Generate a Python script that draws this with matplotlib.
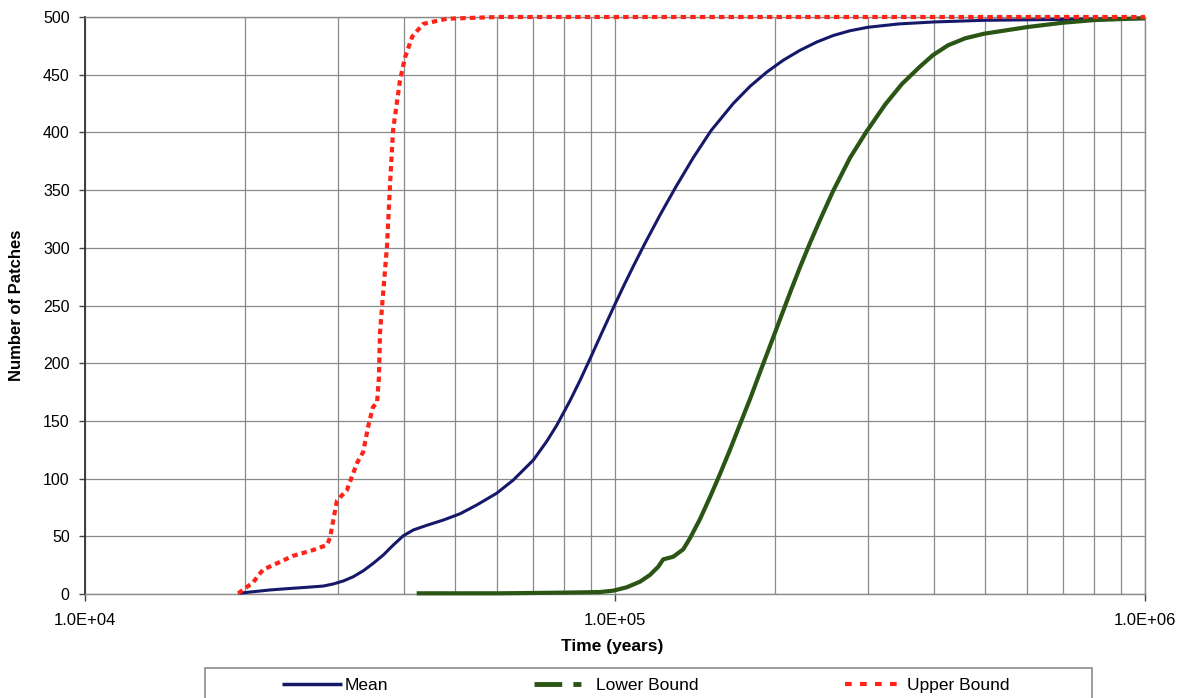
#!/usr/bin/python3
"""
Patch count over time, mean with lower and upper bounds.
"""
import matplotlib
matplotlib.use('Agg')
import matplotlib.pyplot as plt
from matplotlib.lines import Line2D
from matplotlib.patches import Rectangle
from matplotlib.ticker import LogLocator, FuncFormatter, MultipleLocator, NullFormatter

# Mean curve (time in years, number of patches)
mean_t = [19470, 20780, 22340, 24020, 26200, 28160, 29410, 30720, 32090, 33520,
          34990, 36550, 38180, 39870, 41650, 44130, 47450, 51000, 54830, 59800,
          64300, 70150, 74320, 77620, 82250, 85910, 89720, 95060, 99500, 104000,
          108300, 114000, 121600, 130000, 140500, 151800, 167200, 179800, 193300,
          207800, 223300, 240200, 258200, 277600, 300000, 343000, 400000, 493000,
          667000, 1000000]
mean_n = [0.6, 2, 3.5, 4.6, 5.8, 6.9, 8.7, 11.3, 15, 20.2,
          26.6, 33.8, 42.5, 50.5, 55.5, 59.5, 64.1, 69.5, 77.1, 87.3,
          98.8, 116.1, 132.2, 146.1, 167.5, 185.1, 203.8, 229.2, 249, 267.6,
          284.1, 304.2, 328.4, 352.1, 378.1, 401.6, 425.1, 439.9, 452.2,
          462.6, 471.1, 478.3, 484, 488.1, 491.1, 494, 495.7, 497.1,
          497.8, 498.5]

# Lower bound
lower_t = [42250, 60700, 81070, 93700, 99270, 105200, 111500, 116400, 120700,
           123300, 128800, 134500, 138500, 144700, 151100, 157800, 164800, 172100,
           179800, 187700, 196100, 204800, 213900, 223300, 233200, 243600, 257800,
           277600, 297500, 323200, 347900, 376200, 398100, 425000, 457600, 496800,
           600100, 698200, 800000, 1000000]
lower_n = [0.6, 0.6, 1.2, 1.7, 2.9, 5.8, 10.7, 16.5, 23.7,
           30, 32.3, 38.7, 48.3, 65, 84, 104, 125, 147,
           169, 192, 215, 238, 261, 283, 304, 324, 349,
           378, 400, 424, 442, 457, 467, 475.5, 481.5, 485.5,
           491.3, 495, 497.3, 499]

# Upper bound
upper_t = [19450, 20750, 21660, 22630, 24680, 26900, 28620, 29000, 29880, 31200,
           32600, 33480, 34220, 34940, 35560, 35860, 36020, 36300, 37130, 37630,
           38130, 39290, 40170, 41440, 43450, 48200, 60000, 1000000]
upper_n = [0.5, 10, 21, 25, 33, 38, 42.5, 49, 81, 90,
           113.5, 123, 145, 162, 165.5, 188, 226, 246, 301, 355,
           402, 445, 465, 483, 494, 498.5, 500, 500]

labels = ['Mean', 'Lower Bound', 'Upper Bound']
colors = ['#16196a', '#2b5514', '#ff2318']

W, H = 1182, 698


def format_plotting():
    plt.rcParams['font.family'] = ['Liberation Sans', 'DejaVu Sans']
    plt.rcParams['font.size'] = 12
    plt.rcParams['axes.linewidth'] = 1
    plt.rcParams['lines.solid_capstyle'] = 'butt'
    plt.rcParams['lines.dash_capstyle'] = 'butt'
    plt.rcParams['lines.solid_joinstyle'] = 'round'
    return


def plot_patches():
    format_plotting()
    fig = plt.figure(figsize=(W / 100, H / 100), dpi=100)
    ax = fig.add_axes([85 / W, 1 - 594 / H, (1145 - 85) / W, (594 - 17) / H])

    ax.plot(mean_t, mean_n, color=colors[0], lw=2.2, clip_on=False, zorder=3)
    ax.plot(lower_t, lower_n, color=colors[1], lw=3.0, clip_on=False, zorder=4)
    ax.plot(upper_t, upper_n, color=colors[2], lw=3.0, dashes=(1.3, 1.0),
            clip_on=False, zorder=5)

    ax.set_xscale('log')
    ax.set_xlim(1e4, 1e6)
    ax.set_ylim(0, 500)
    ax.yaxis.set_major_locator(MultipleLocator(50))
    ax.xaxis.set_major_locator(LogLocator(base=10))
    ax.xaxis.set_minor_locator(LogLocator(base=10, subs=range(2, 10)))
    ax.xaxis.set_major_formatter(FuncFormatter(lambda v, p: '{:.1E}'.format(v)))
    ax.xaxis.set_minor_formatter(NullFormatter())

    ax.grid(True, which='both', axis='x', color='#8a8a8a', lw=0.9)
    ax.grid(True, which='major', axis='y', color='#8a8a8a', lw=0.9)
    ax.set_axisbelow(True)

    ax.tick_params(axis='y', direction='out', length=4, width=1, pad=7,
                   labelsize=11.5, color='#444444')
    ax.tick_params(axis='x', which='major', direction='out', length=5, width=1,
                   pad=9, labelsize=12, color='#444444')
    ax.tick_params(axis='x', which='minor', length=0)

    for side in ['top', 'right', 'bottom']:
        ax.spines[side].set_color('#8a8a8a')
    ax.spines['left'].set_color('#333333')
    ax.spines['left'].set_linewidth(1.3)

    ax.set_xlabel('Time (years)', fontweight='bold', fontsize=12.5)
    ax.xaxis.set_label_coords((612 - 85) / 1060, (594 - 639) / 577)
    ax.set_ylabel('Number of Patches', fontweight='bold', fontsize=12)
    ax.yaxis.set_label_coords((24 - 85) / 1060, (594 - 305) / 577)

    # legend box runs off the bottom edge, as in the original
    fig.add_artist(Rectangle((205 / W, -0.02), (1092 - 205) / W, (698 - 668) / H + 0.02,
                             transform=fig.transFigure, facecolor='white',
                             edgecolor='#8c8c8c', lw=1.2))
    handles = [
        Line2D([], [], color=colors[0], lw=2.5),
        Line2D([], [], color=colors[1], lw=3.5, dashes=(5.7, 2.3, 1.65, 4)),
        Line2D([], [], color=colors[2], lw=3.0, dashes=(1.6, 2.0)),
    ]
    fig.legend(handles, labels, loc='center', ncol=3, frameon=False,
               bbox_to_anchor=(646 / W, 1 - 685 / H), fontsize=12.5,
               handlelength=3.45, handletextpad=0.15, columnspacing=8.4,
               borderpad=0, borderaxespad=0)

    plt.savefig('out.png', dpi=100)
    return


if __name__ == "__main__":
    plot_patches()
